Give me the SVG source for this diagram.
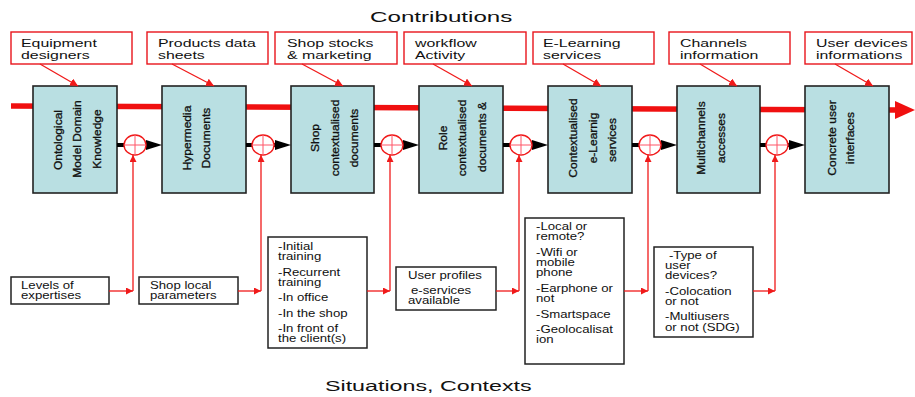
<svg xmlns="http://www.w3.org/2000/svg" width="915" height="397" viewBox="0 0 915 397">
<style>
text{font-family:"Liberation Sans",Arial,sans-serif;fill:#111}
.title{font-size:15.5px}
.lbl{font-size:11.5px}
.sm{font-size:10px}
.nt{font-size:12px;dominant-baseline:central;text-anchor:middle;stroke:#111;stroke-width:0.35}
.lbox{fill:#fff;stroke:#e8141c;stroke-width:1.4}
.node{fill:#b9dfe2;stroke:#222;stroke-width:1.6}
.cbox{fill:#fff;stroke:#222;stroke-width:1.5}
.rl{fill:none;stroke:#f01a1a;stroke-width:1.3}
.bk{stroke:#000;stroke-width:4}
.sum{fill:#fff;stroke:#f01a1a;stroke-width:1.4}
.cross{stroke:#f56;stroke-width:1}
</style>
<defs>
<marker id="ra" viewBox="0 0 10 10" refX="10" refY="5" markerWidth="8" markerHeight="8" markerUnits="userSpaceOnUse" orient="auto"><path d="M0,0 L10,5 L0,10 z" fill="#f01a1a"/></marker>
<marker id="rb" viewBox="0 0 10 10" refX="10" refY="5" markerWidth="9" markerHeight="7" markerUnits="userSpaceOnUse" orient="auto"><path d="M0,0 L10,5 L0,10 z" fill="#f01a1a"/></marker>
</defs>

<text class="title" transform="translate(370,22) scale(1.56,1)">Contributions</text>
<text class="title" transform="translate(325,391) scale(1.5,1)">Situations, Contexts</text>

<!-- main red flow arrow -->
<g id="main-flow">
<line x1="11" y1="106" x2="898" y2="110" stroke="#f01010" stroke-width="5.5"/>
<polygon points="895,101 915,110 895,119" fill="#f01010"/>
</g>

<!-- contribution labels -->
<g id="c1"><rect class="lbox" x="11" y="32" width="121" height="32"/><g transform="translate(21,0) scale(1.38,1)"><text class="lbl" x="0" y="47">Equipment</text><text class="lbl" x="0" y="59">designers</text></g></g>
<g id="c2"><rect class="lbox" x="147" y="32" width="121" height="32"/><g transform="translate(158,0) scale(1.38,1)"><text class="lbl" x="0" y="47">Products data</text><text class="lbl" x="0" y="59">sheets</text></g></g>
<g id="c3"><rect class="lbox" x="275" y="32" width="122" height="32"/><g transform="translate(287,0) scale(1.38,1)"><text class="lbl" x="0" y="47">Shop stocks</text><text class="lbl" x="0" y="59">&amp; marketing</text></g></g>
<g id="c4"><rect class="lbox" x="404" y="32" width="122" height="32"/><g transform="translate(415,0) scale(1.38,1)"><text class="lbl" x="0" y="47">workflow</text><text class="lbl" x="0" y="59">Activity</text></g></g>
<g id="c5"><rect class="lbox" x="533" y="32" width="121" height="32"/><g transform="translate(543,0) scale(1.38,1)"><text class="lbl" x="0" y="47">E-Learning</text><text class="lbl" x="0" y="59">services</text></g></g>
<g id="c6"><rect class="lbox" x="669" y="32" width="121" height="32"/><g transform="translate(680,0) scale(1.38,1)"><text class="lbl" x="0" y="47">Channels</text><text class="lbl" x="0" y="59">information</text></g></g>
<g id="c7"><rect class="lbox" x="805" y="32" width="107" height="32"/><g transform="translate(816,0) scale(1.38,1)"><text class="lbl" x="0" y="47">User devices</text><text class="lbl" x="0" y="59">informations</text></g></g>

<!-- nodes -->
<g id="n1"><rect class="node" x="33" y="86" width="84" height="107"/>
<text class="nt" transform="translate(58,140) rotate(-90) scale(1,0.9)">Ontological</text>
<text class="nt" transform="translate(77,139) rotate(-90) scale(1,0.9)">Model Domain</text>
<text class="nt" transform="translate(97,139) rotate(-90) scale(1,0.9)">Knowledge</text></g>
<g id="n2"><rect class="node" x="162" y="86" width="84" height="107"/>
<text class="nt" transform="translate(187,138) rotate(-90) scale(1,0.9)">Hypermedia</text>
<text class="nt" transform="translate(206,138) rotate(-90) scale(1,0.9)">Documents</text></g>
<g id="n3"><rect class="node" x="291" y="86" width="83" height="107"/>
<text class="nt" transform="translate(315,138) rotate(-90) scale(1,0.9)">Shop</text>
<text class="nt" transform="translate(335,138) rotate(-90) scale(1,0.9)">contextualised</text>
<text class="nt" transform="translate(354,138) rotate(-90) scale(1,0.9)">documents</text></g>
<g id="n4"><rect class="node" x="419" y="86" width="84" height="107"/>
<text class="nt" transform="translate(443,138) rotate(-90) scale(1,0.9)">Role</text>
<text class="nt" transform="translate(462,138) rotate(-90) scale(1,0.9)">contextualised</text>
<text class="nt" transform="translate(482,137) rotate(-90) scale(1,0.9)">documents &amp;</text></g>
<g id="n5"><rect class="node" x="548" y="86" width="84" height="107"/>
<text class="nt" transform="translate(573,138) rotate(-90) scale(1,0.9)">Contextualised</text>
<text class="nt" transform="translate(593,138) rotate(-90) scale(1,0.9)">e-Learnig</text>
<text class="nt" transform="translate(612,140) rotate(-90) scale(1,0.9)">services</text></g>
<g id="n6"><rect class="node" x="677" y="86" width="83" height="107"/>
<text class="nt" transform="translate(701,138) rotate(-90) scale(1,0.9)">Multichannels</text>
<text class="nt" transform="translate(721,138) rotate(-90) scale(1,0.9)">accesses</text></g>
<g id="n7"><rect class="node" x="805" y="86" width="84" height="107"/>
<text class="nt" transform="translate(832,138) rotate(-90) scale(1,0.9)">Concrete user</text>
<text class="nt" transform="translate(850,138) rotate(-90) scale(1,0.9)">interfaces</text></g>

<!-- context boxes -->
<g id="s1"><rect class="cbox" x="11" y="277" width="98" height="27"/><g transform="translate(21,0) scale(1.32,1)"><text class="sm" x="0" y="289">Levels of</text><text class="sm" x="0" y="299">expertises</text></g></g>
<g id="s2"><rect class="cbox" x="139" y="277" width="99" height="27"/><g transform="translate(150,0) scale(1.32,1)"><text class="sm" x="0" y="289">Shop local</text><text class="sm" x="0" y="299">parameters</text></g></g>
<g id="s3"><rect class="cbox" x="268" y="237" width="99" height="111"/><g transform="translate(278,0) scale(1.32,1)">
<text class="sm" x="0" y="250">-Initial</text><text class="sm" x="0" y="260">training</text>
<text class="sm" x="0" y="276">-Recurrent</text><text class="sm" x="0" y="286">training</text>
<text class="sm" x="0" y="301">-In office</text>
<text class="sm" x="0" y="317">-In the shop</text>
<text class="sm" x="0" y="332">-In front of</text><text class="sm" x="0" y="342">the client(s)</text></g></g>
<g id="s4"><rect class="cbox" x="396" y="267" width="100" height="43"/><g transform="translate(408,0) scale(1.32,1)">
<text class="sm" x="0" y="279">User profiles</text><text class="sm" x="2.3" y="294">e-services</text><text class="sm" x="0" y="304">available</text></g></g>
<g id="s5"><rect class="cbox" x="525" y="218" width="99" height="146"/><g transform="translate(536,0) scale(1.32,1)">
<text class="sm" x="0" y="230">-Local or</text><text class="sm" x="0" y="240">remote?</text>
<text class="sm" x="0" y="256">-Wifi or</text><text class="sm" x="0" y="266">mobile</text><text class="sm" x="0" y="276">phone</text>
<text class="sm" x="0" y="292">-Earphone or</text><text class="sm" x="0" y="302">not</text>
<text class="sm" x="0" y="318">-Smartspace</text>
<text class="sm" x="0" y="333">-Geolocalisat</text><text class="sm" x="0" y="343">ion</text></g></g>
<g id="s6"><rect class="cbox" x="654" y="247" width="99" height="90"/><g transform="translate(665,0) scale(1.32,1)">
<text class="sm" x="3" y="259">-Type of</text><text class="sm" x="0" y="269">user</text><text class="sm" x="0" y="279">devices?</text>
<text class="sm" x="0" y="295">-Colocation</text><text class="sm" x="0" y="305">or not</text>
<text class="sm" x="0" y="320">-Multiusers</text><text class="sm" x="0" y="331">or not (SDG)</text></g></g>

<!-- connectors -->
<g id="connectors">
<line class="rl" x1="40" y1="64" x2="78" y2="86" marker-end="url(#ra)"/>
<line class="rl" x1="172" y1="64" x2="214" y2="86" marker-end="url(#ra)"/>
<line class="rl" x1="302" y1="64" x2="343" y2="86" marker-end="url(#ra)"/>
<line class="rl" x1="433" y1="64" x2="472" y2="86" marker-end="url(#ra)"/>
<line class="rl" x1="563" y1="64" x2="601" y2="86" marker-end="url(#ra)"/>
<line class="rl" x1="700" y1="64" x2="737" y2="86" marker-end="url(#ra)"/>
<line class="rl" x1="835" y1="64" x2="873" y2="86" marker-end="url(#ra)"/>

<line class="bk" x1="117" y1="145" x2="150" y2="145"/><polygon points="146,140 162,145 146,150"/>
<line class="bk" x1="246" y1="145" x2="279" y2="145"/><polygon points="275,140 291,145 275,150"/>
<line class="bk" x1="374" y1="145" x2="407" y2="145"/><polygon points="403,140 419,145 403,150"/>
<line class="bk" x1="503" y1="145" x2="536" y2="145"/><polygon points="532,140 548,145 532,150"/>
<line class="bk" x1="632" y1="145" x2="665" y2="145"/><polygon points="661,140 677,145 661,150"/>
<line class="bk" x1="760" y1="145" x2="793" y2="145"/><polygon points="789,140 805,145 789,150"/>

<g id="j1"><ellipse class="sum" cx="135" cy="145" rx="11" ry="10"/><path class="cross" d="M124,145H146M135,135V155"/></g>
<g id="j2"><ellipse class="sum" cx="263" cy="145" rx="11" ry="10"/><path class="cross" d="M252,145H274M263,135V155"/></g>
<g id="j3"><ellipse class="sum" cx="392" cy="145" rx="11" ry="10"/><path class="cross" d="M381,145H403M392,135V155"/></g>
<g id="j4"><ellipse class="sum" cx="521" cy="145" rx="11" ry="10"/><path class="cross" d="M510,145H532M521,135V155"/></g>
<g id="j5"><ellipse class="sum" cx="650" cy="145" rx="11" ry="10"/><path class="cross" d="M639,145H661M650,135V155"/></g>
<g id="j6"><ellipse class="sum" cx="777" cy="145" rx="11" ry="10"/><path class="cross" d="M766,145H788M777,135V155"/></g>

<line class="rl" x1="109" y1="291" x2="133" y2="291" marker-end="url(#rb)"/><line class="rl" x1="133" y1="291" x2="133" y2="155" marker-end="url(#rb)"/>
<line class="rl" x1="238" y1="291" x2="261" y2="291" marker-end="url(#rb)"/><line class="rl" x1="261" y1="291" x2="261" y2="155" marker-end="url(#rb)"/>
<line class="rl" x1="367" y1="291" x2="390" y2="291" marker-end="url(#rb)"/><line class="rl" x1="390" y1="291" x2="390" y2="155" marker-end="url(#rb)"/>
<line class="rl" x1="496" y1="291" x2="519" y2="291" marker-end="url(#rb)"/><line class="rl" x1="519" y1="291" x2="519" y2="155" marker-end="url(#rb)"/>
<line class="rl" x1="624" y1="291" x2="648" y2="291" marker-end="url(#rb)"/><line class="rl" x1="648" y1="291" x2="648" y2="155" marker-end="url(#rb)"/>
<line class="rl" x1="753" y1="291" x2="775" y2="291" marker-end="url(#rb)"/><line class="rl" x1="775" y1="291" x2="775" y2="155" marker-end="url(#rb)"/>
</g>
</svg>
